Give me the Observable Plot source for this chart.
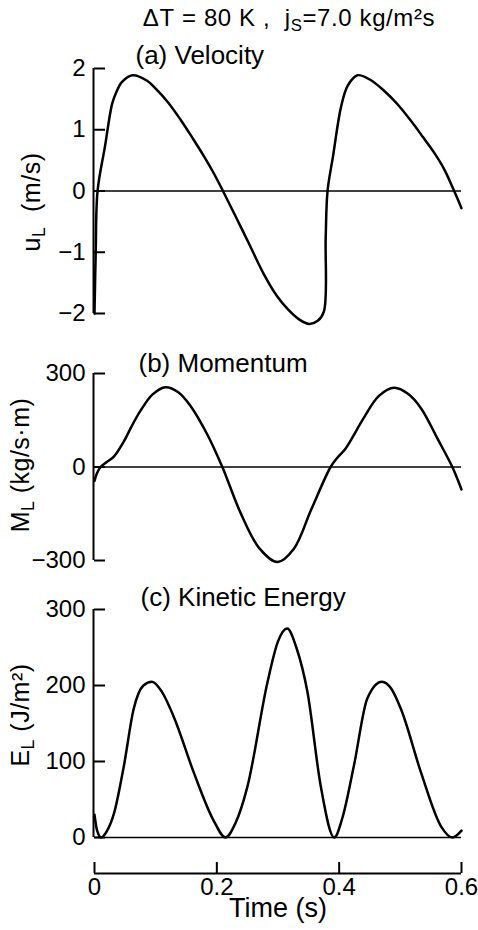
<!DOCTYPE html>
<html><head><meta charset="utf-8">
<script src="https://cdn.jsdelivr.net/npm/d3@7"></script>
<script src="https://cdn.jsdelivr.net/npm/@observablehq/plot@0.6"></script>
<style>
body{margin:0;background:#fff;}
#wrap{position:relative;width:478px;height:930px;font-family:"Liberation Sans",Arial,sans-serif;color:#000;background:#fff;overflow:hidden;}
#wrap svg{position:absolute;left:0;}
.title{position:absolute;left:289px;top:4px;transform:translateX(-50%);font-size:24px;letter-spacing:0.6px;white-space:nowrap;}
.ylab{position:absolute;font-size:25px;white-space:nowrap;transform:translate(-50%,-50%) rotate(-90deg);line-height:1;letter-spacing:0.5px;}
.ylab sub,.title sub{font-size:0.7em;vertical-align:-0.3em;}
</style></head>
<body>
<div id="wrap">
  <div class="title">&Delta;T&nbsp;=&nbsp;80&nbsp;K&nbsp;,&nbsp;&nbsp;j<sub>S</sub>=7.0 kg/m²s</div>
  <div class="ylab" style="left:34px;top:202px;">u<sub>L</sub>&nbsp;&nbsp;(m/s)</div>
  <div class="ylab" style="left:23px;top:465px;">M<sub>L</sub> (kg/s·m)</div>
  <div class="ylab" style="left:23px;top:715px;">E<sub>L</sub> (J/m²)</div>
</div>
<script>
// ---- data ----
const velT = [0, 0.002, 0.005, 0.017, 0.029, 0.036, 0.045, 0.062, 0.086, 0.10, 0.12, 0.141, 0.16, 0.18, 0.195, 0.21, 0.23, 0.255, 0.277, 0.298, 0.316, 0.335, 0.351, 0.365, 0.375, 0.378, 0.381, 0.39, 0.403, 0.414, 0.43, 0.45, 0.473, 0.495, 0.517, 0.537, 0.555, 0.572, 0.588, 0.6];
const velU = [-2.0, -1.0, 0, 0.72, 1.43, 1.62, 1.78, 1.89, 1.80, 1.67, 1.45, 1.16, 0.87, 0.55, 0.29, 0, -0.40, -0.91, -1.36, -1.71, -1.93, -2.10, -2.17, -2.12, -1.97, -0.75, 0, 0.57, 1.37, 1.72, 1.89, 1.82, 1.64, 1.42, 1.15, 0.88, 0.63, 0.35, 0, -0.28];

const momT = [0, 0.004, 0.01, 0.02, 0.032, 0.048, 0.06, 0.075, 0.095, 0.116, 0.137, 0.157, 0.184, 0.209, 0.239, 0.27, 0.299, 0.326, 0.354, 0.386, 0.398, 0.41, 0.441, 0.465, 0.49, 0.513, 0.534, 0.561, 0.585, 0.6];
const momM = [-45, -20, 0, 16, 34, 82, 128, 180, 233, 256, 240, 196, 106, 0, -148, -262, -305, -262, -138, 0, 32, 58, 160, 228, 254, 234, 188, 90, 0, -72];

const engT = [0, 0.004, 0.011, 0.02, 0.032, 0.048, 0.064, 0.08, 0.094, 0.11, 0.13, 0.163, 0.195, 0.214, 0.23, 0.25, 0.283, 0.30, 0.315, 0.33, 0.348, 0.37, 0.392, 0.405, 0.424, 0.446, 0.47, 0.485, 0.501, 0.534, 0.567, 0.585, 0.6];
const engE = [30, 10, 0, 8, 32, 94, 169, 200, 205, 192, 158, 84, 22, 0, 18, 67, 205, 258, 275, 250, 192, 67, 0, 25, 94, 183, 205, 196, 169, 85, 14, 0, 9];

const uTicks = [-2, -1, 0, 1, 2];
const mTicks = [-300, 0, 300];
const eTicks = [0, 100, 200, 300];
const tTicks = [0, 0.2, 0.4, 0.6];

const panelTitles = ["(a) Velocity", "(b) Momentum", "(c) Kinetic Energy"];
const xLabel = "Time (s)";

// ---- drawing ----
const FONT = '"Liberation Sans", Arial, sans-serif';
const fmt = d3.format("~g");
const wrap = document.getElementById("wrap");
const common = {width: 478, marginLeft: 94, marginRight: 17,
  x: {domain: [0, 0.6], axis: null},
  style: {fontFamily: FONT, background: "transparent", overflow: "visible", color: "#000"}};

function panel({top, height, mt, mb, t, v, yDomain, yTicks, title, tdx, tdy, curve}) {
  const data = t.map((d, i) => ({t: d, v: v[i]}));
  const svg = Plot.plot({
    ...common, height, marginTop: mt, marginBottom: mb,
    y: {domain: yDomain},
    marks: [
      Plot.axisY(yTicks, {tickSize: -11, tickPadding: 20, fontSize: 24, strokeWidth: 2, label: null, tickFormat: fmt}),
      Plot.ruleX([0], {y1: yDomain[0], y2: yDomain[1], strokeWidth: 2, dx: -1}),
      Plot.ruleY([0], {strokeWidth: 1.5}),
      Plot.line(data, {x: "t", y: "v", curve, strokeWidth: 2.5}),
      Plot.text([title], {frameAnchor: "top-left", textAnchor: "start", lineAnchor: "middle", dx: tdx, dy: tdy, fontSize: 26})
    ]
  });
  svg.style.top = top + "px";
  wrap.appendChild(svg);
}

panel({top: 30, height: 300, mt: 38, mb: 17, t: velT, v: velU, yDomain: [-2, 2], yTicks: uTicks, title: panelTitles[0], tdx: 41, tdy: -13, curve: "catmull-rom"});
panel({top: 340, height: 240, mt: 33, mb: 20, t: momT, v: momM, yDomain: [-300, 300], yTicks: mTicks, title: panelTitles[1], tdx: 44, tdy: -10, curve: "catmull-rom"});
panel({top: 580, height: 270, mt: 29, mb: 13, t: engT, v: engE, yDomain: [0, 300], yTicks: eTicks, title: panelTitles[2], tdx: 46, tdy: -12, curve: "monotone-x"});

const axisSvg = Plot.plot({
  ...common, height: 80, marginTop: 12, marginBottom: 57,
  y: {domain: [0, 1], axis: null},
  marks: [
    Plot.ruleY([0], {strokeWidth: 2}),
    Plot.ruleX(tTicks, {y1: 0, y2: 1, strokeWidth: 2}),
    Plot.axisX(tTicks, {tickSize: 0, tickPadding: 4, fontSize: 24, label: null, tickFormat: fmt}),
    Plot.text([xLabel], {frameAnchor: "bottom", lineAnchor: "middle", dy: 35, fontSize: 27, letterSpacing: "1px"})
  ]
});
axisSvg.style.top = "850px";
wrap.appendChild(axisSvg);
</script>
</body></html>
